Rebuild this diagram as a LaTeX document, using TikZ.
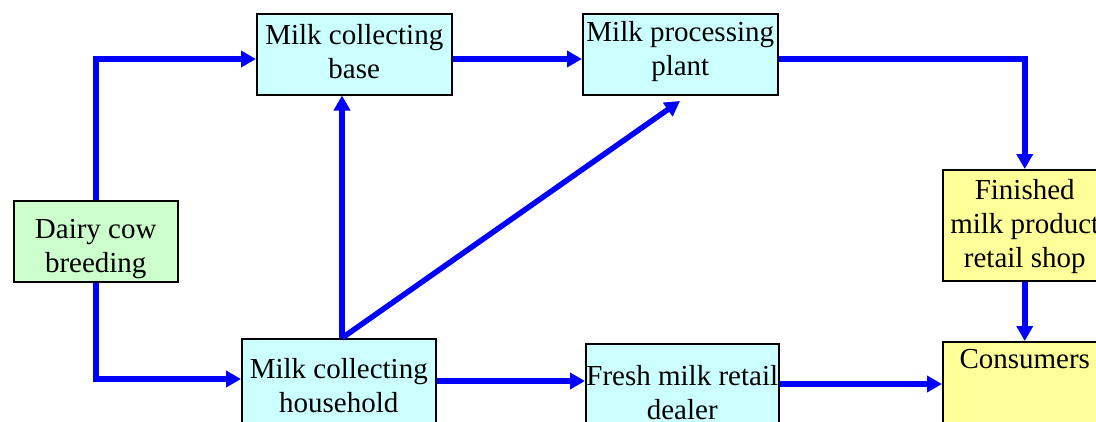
\documentclass[tikz,border=0pt]{standalone}
\usepackage{fontspec}
\setmainfont{Liberation Serif}
\usetikzlibrary{arrows.meta}
\definecolor{cyanbox}{HTML}{CCFFFF}
\definecolor{greenbox}{HTML}{CCFFCC}
\definecolor{yellowbox}{HTML}{FFFF99}
\definecolor{arrblue}{HTML}{0000FF}
\begin{document}
\begin{tikzpicture}[x=1pt,y=1pt,
  box/.style={draw=black, line width=1.5pt, anchor=north west, inner sep=0pt},
  txt/.style={align=center, inner sep=0pt, font=\fontsize{29}{34}\selectfont},
  arr/.style={draw=arrblue, line width=5.5pt,
    -{Triangle[length=15pt,width=16pt]}}]
\useasboundingbox (0,0) rectangle (1096,-421);
\clip (0,0) rectangle (1096,-421);
\fill[white] (0,0) rectangle (1096,-421);
\node[box, fill=greenbox, minimum width=164, minimum height=81,
  label={[txt, yshift=-8pt]center:Dairy cow\\breeding}] (dairy) at (13,-200) {};
\node[box, fill=cyanbox, minimum width=195, minimum height=81,
  label={[txt, yshift=3pt]center:Milk collecting\\base}] (base) at (256,-13) {};
\node[box, fill=cyanbox, minimum width=195, minimum height=81,
  label={[txt, yshift=3pt]center:Milk processing\\plant}] (plant) at (582,-13) {};
\node[box, fill=yellowbox, minimum width=164, minimum height=111,
  label={[txt, yshift=-1pt]center:Finished\\milk product\\retail shop}] (shop) at (942,-169) {};
\node[box, fill=yellowbox, minimum width=164, minimum height=120,
  label={[txt, anchor=north, yshift=-8pt]north:Consumers}] (cons) at (942,-341) {};
\node[box, fill=cyanbox, minimum width=194, minimum height=96,
  label={[txt, yshift=1pt]center:Milk collecting\\household}] (house) at (241,-338) {};
\node[box, fill=cyanbox, minimum width=193, minimum height=98,
  label={[txt]center:Fresh milk retail\\dealer}] (fresh) at (585,-343) {};
\coordinate (ytop) at (0,-59);
\coordinate (yhouse) at (0,-379);
\coordinate (yfresh) at (0,-381);
\coordinate (ycons) at (0,-384);
\coordinate (xup) at (342,0);
\coordinate (hstart) at (xup |- house.north);
\coordinate (ptip) at (680,-101);
\draw[arr] (dairy.north) |- (base.west |- ytop);
\draw[arr] (dairy.south) |- (house.west |- yhouse);
\draw[arr] (base.east |- ytop) -- (plant.west |- ytop);
\draw[arr] (hstart) -- (xup |- base.south);
\draw[arr] (hstart) -- (ptip);
\draw[arr] (plant.east |- ytop) -| (shop.north);
\draw[arr] (shop.south) -- (cons.north);
\draw[arr] (house.east |- yfresh) -- (fresh.west |- yfresh);
\draw[arr] (fresh.east |- ycons) -- (cons.west |- ycons);
\end{tikzpicture}
\end{document}
